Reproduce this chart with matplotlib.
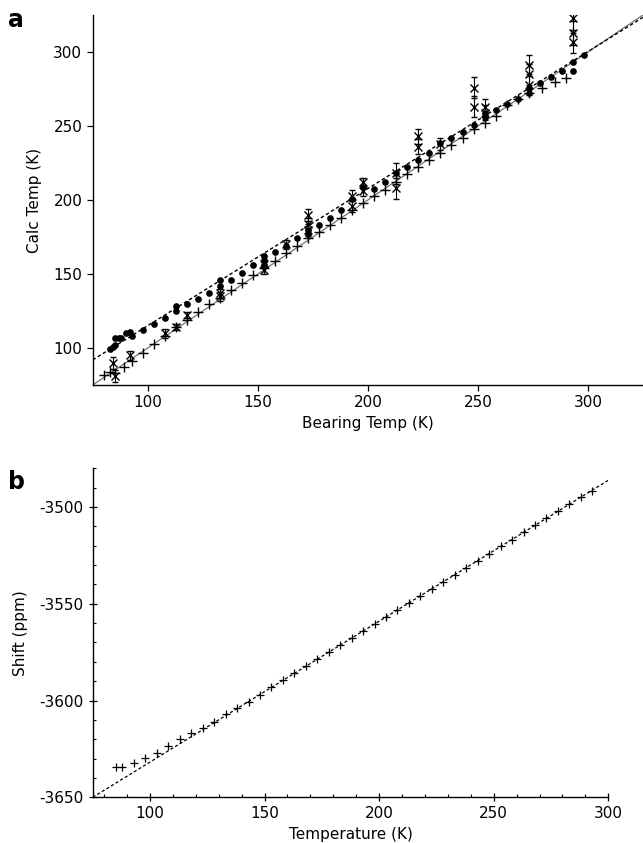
import numpy as np
import matplotlib
matplotlib.use("Agg")
import matplotlib.pyplot as plt
from matplotlib.ticker import MultipleLocator

plt.rcParams['font.family'] = ['DejaVu Sans']
plt.rcParams['axes.unicode_minus'] = False

# ---------------- Panel a data ----------------
dot_x = [83, 84, 85, 85, 87, 88, 90, 92, 93, 98, 103, 108, 113, 113, 118, 123, 128,
         133, 133, 138, 143, 148, 153, 153, 153, 158, 163, 168, 173, 173, 178, 183,
         188, 193, 198, 203, 208, 213, 218, 223, 228, 233, 238, 243, 248, 253, 253,
         258, 263, 268, 273, 273, 278, 283, 288, 293, 293, 298]
dot_y = [99, 100.5, 102, 107, 107, 106.5, 110, 111, 108, 112, 116.5, 120.5, 128.5, 125,
         129.5, 133, 137, 146, 142, 146, 151, 156, 162, 159, 156, 165, 169, 174, 180,
         177, 183, 188, 193.5, 201, 209, 207.5, 212.5, 218, 222, 227, 232, 238.5, 242,
         246, 251, 259, 256, 261, 265, 268, 276, 272, 279, 283, 287.5, 293, 287, 298]

plus_x = [80, 83, 85, 89, 93, 98, 103, 108, 113, 118, 123, 128, 133, 138, 143, 148,
          153, 158, 163, 168, 173, 178, 183, 188, 193, 198, 203, 208, 213, 218, 223,
          228, 233, 238, 243, 248, 253, 258, 263, 268, 273, 279, 285, 290]
plus_y = [82, 84, 83, 87.5, 91, 96.5, 103, 108, 114, 119, 124, 129.5, 134, 139, 144,
          149, 154, 159, 164, 169, 174, 178.5, 183, 188, 193, 198, 203, 207, 212.5,
          217.5, 222, 227, 232, 237, 242, 248, 252, 257, 264, 268, 272, 275.5, 280,
          282.5]

xe_x = [84, 85, 92, 108, 113, 118, 133, 133, 153, 153, 163, 173, 173, 173, 193, 193,
        198, 198, 213, 213, 223, 223, 233, 248, 248, 253, 253, 273, 273, 273, 293,
        293, 293]
xe_y = [90, 81, 95, 110, 114, 122, 137, 135, 157, 153, 170, 190, 184, 180, 203, 196,
        212, 206, 218, 208, 243, 236, 238, 276, 263, 263, 259, 291, 285, 278, 323,
        313, 307]
xe_err = [4, 4, 3, 3, 2, 2, 3, 3, 3, 3, 3, 4, 4, 4, 4, 4, 3, 3, 7, 7, 5, 5, 4, 7, 7,
          5, 5, 7, 7, 7, 10, 8, 8]

fit_a_slope = 0.926
fit_a_intercept = 22.5

xlim_a = (75, 325)
ylim_a = (75, 325)
xticks_a = [100, 150, 200, 250, 300]
yticks_a = [100, 150, 200, 250, 300]

# ---------------- Panel b data ----------------
temp_b = [85, 88, 93, 98, 103, 108, 113, 118, 123, 128, 133, 138, 143, 148, 153, 158,
          163, 168, 173, 178, 183, 188, 193, 198, 203, 208, 213, 218, 223, 228, 233,
          238, 243, 248, 253, 258, 263, 268, 273, 278, 283, 288, 293]
shift_b = [-3634.5, -3634.5, -3632.5, -3629.5, -3627, -3623.5, -3620, -3617, -3614,
           -3611, -3607, -3604, -3600.5, -3597, -3593.2, -3589.6, -3585.9, -3582.3,
           -3578.7, -3575.0, -3571.4, -3567.7, -3564.1, -3560.4, -3556.8, -3553.2,
           -3549.5, -3545.9, -3542.3, -3538.6, -3535.0, -3531.3, -3527.7, -3524.1,
           -3520.4, -3516.8, -3513.1, -3509.5, -3505.9, -3502.2, -3498.6, -3494.9,
           -3491.5]
fit_b_slope = 0.728
fit_b_intercept = -3704.6

xlim_b = (75, 300)
ylim_b = (-3650, -3480)
xticks_b = [100, 150, 200, 250, 300]
yticks_b = [-3500, -3550, -3600, -3650]

W, H = 643, 843
fig = plt.figure(figsize=(W / 100, H / 100), dpi=100)

def ax_rect(l, t, r, b):
    return [l / W, 1 - b / H, (r - l) / W, (b - t) / H]

# ---------------- Panel a ----------------
ax = fig.add_axes(ax_rect(92.7, 15, 643, 385))
xx = np.array(xlim_a)
ax.plot(xx, xx, color='0.45', lw=0.9, zorder=1)
ax.plot(xx, fit_a_slope * xx + fit_a_intercept, color='black', lw=1.0,
        dashes=(2.5, 1.8), zorder=2)
ax.plot(plus_x, plus_y, linestyle='none', marker='+', ms=7.5, mew=1.0,
        color='black', zorder=3)
ax.errorbar(xe_x, xe_y, yerr=xe_err, fmt='x', ms=5.5, mew=1.0, color='black',
            ecolor='black', elinewidth=0.8, capsize=2, capthick=0.8, zorder=4)
ax.plot(dot_x, dot_y, linestyle='none', marker='o', ms=3.8, color='black',
        zorder=5)
ax.set_xlim(*xlim_a)
ax.set_ylim(*ylim_a)
ax.set_xticks(xticks_a)
ax.set_yticks(yticks_a)
for s in ['top', 'right']:
    ax.spines[s].set_visible(False)
for s in ['left', 'bottom']:
    ax.spines[s].set_linewidth(1.0)
ax.tick_params(direction='out', length=4, width=0.9, labelsize=11)
ax.set_xlabel('Bearing Temp (K)', fontsize=11, labelpad=4)
ax.set_ylabel('Calc Temp (K)', fontsize=11, labelpad=8)
fig.text(8 / W, 1 - 20 / H, 'a', fontsize=17, fontweight='bold',
         va='center', ha='left')

# ---------------- Panel b ----------------
bx = fig.add_axes(ax_rect(92.7, 468.3, 608.3, 797.3))
tt = np.array(xlim_b)
bx.plot(tt, fit_b_slope * tt + fit_b_intercept, color='black', lw=0.9,
        dashes=(2.5, 1.8), zorder=2)
bx.plot(temp_b, shift_b, linestyle='none', marker='+', ms=5.5, mew=0.9,
        color='black', zorder=3)
bx.set_xlim(*xlim_b)
bx.set_ylim(*ylim_b)
bx.set_xticks(xticks_b)
bx.set_yticks(yticks_b)
bx.xaxis.set_minor_locator(MultipleLocator(10))
bx.yaxis.set_minor_locator(MultipleLocator(10))
for s in ['top', 'right']:
    bx.spines[s].set_visible(False)
for s in ['left', 'bottom']:
    bx.spines[s].set_linewidth(1.0)
bx.tick_params(which='major', direction='inout', length=6, width=0.9, labelsize=11)
bx.tick_params(which='minor', direction='in', length=2.5, width=0.8)
bx.set_xlabel('Temperature (K)', fontsize=11, labelpad=4)
bx.set_ylabel('Shift (ppm)', fontsize=11, labelpad=8)
fig.text(8 / W, 1 - 482 / H, 'b', fontsize=17, fontweight='bold',
         va='center', ha='left')

fig.savefig('out.png', dpi=100)
